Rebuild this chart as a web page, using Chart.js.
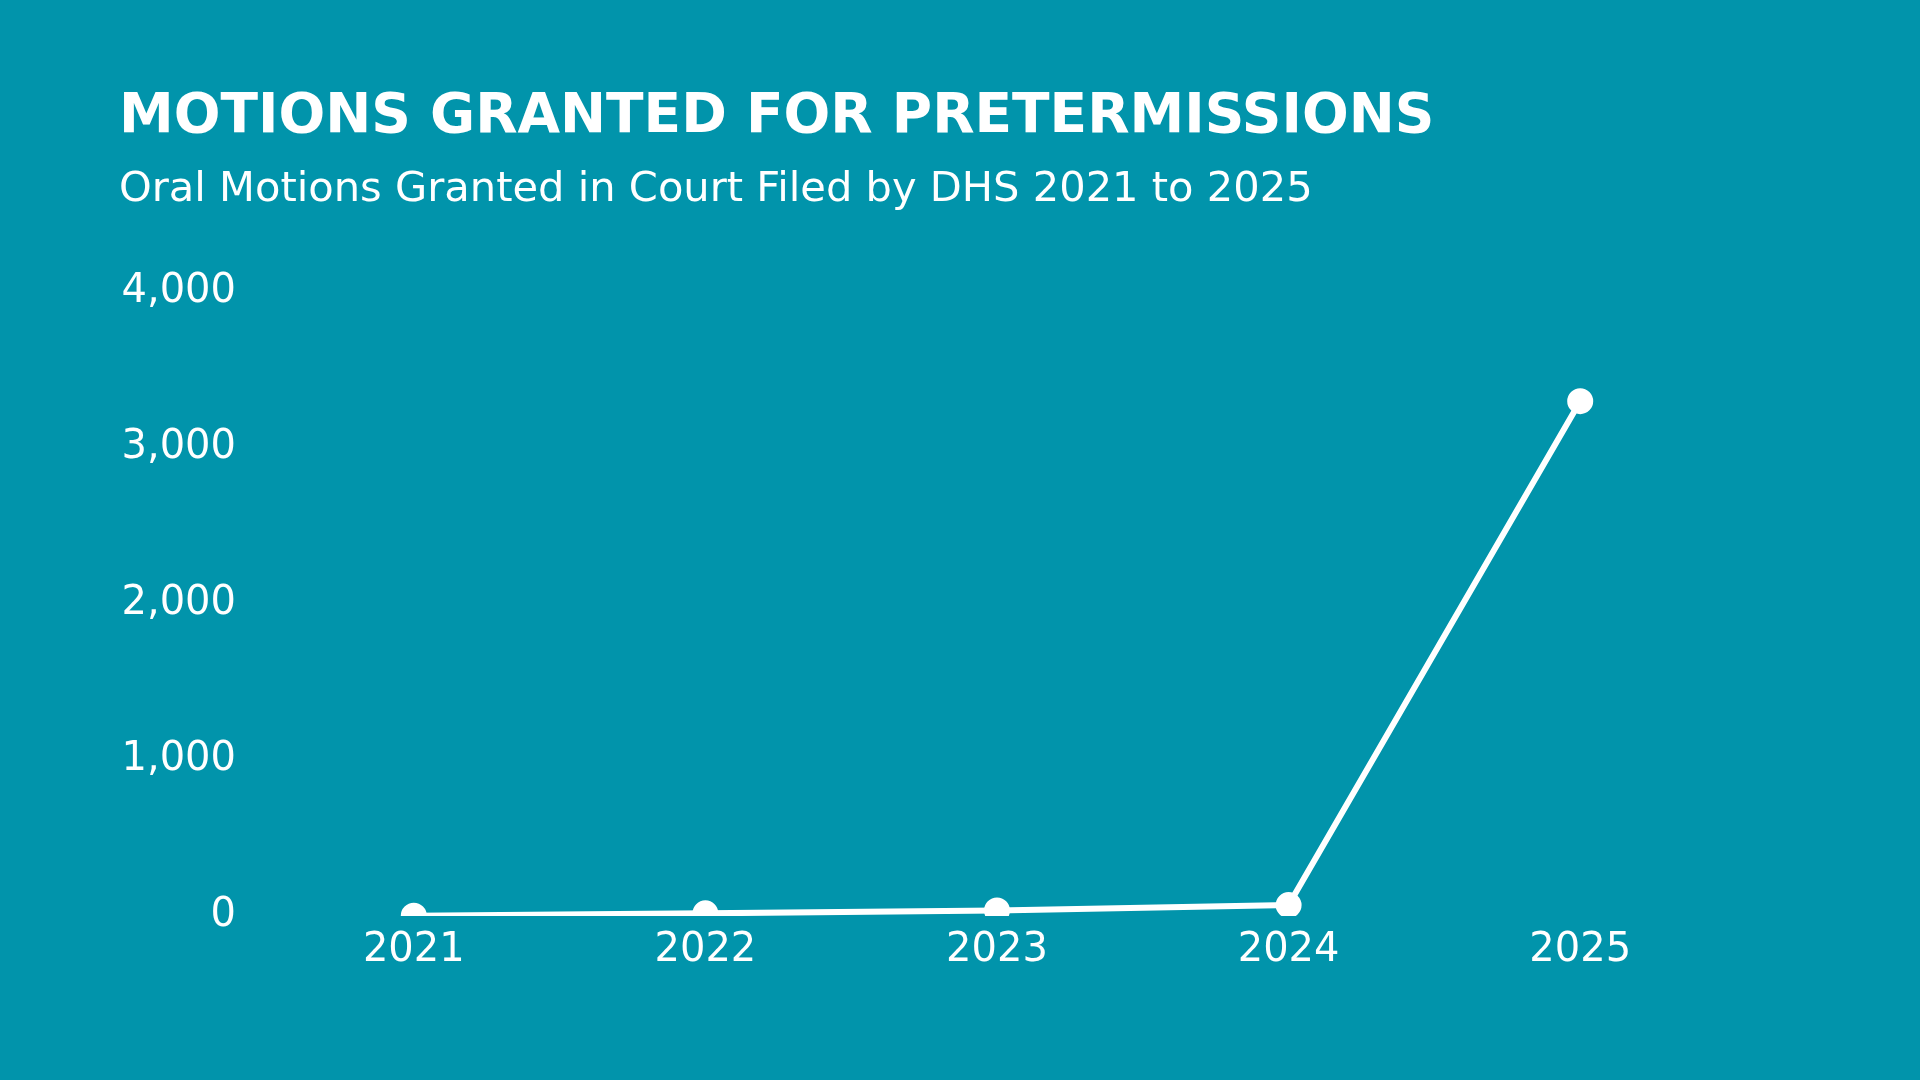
<!DOCTYPE html>
<html lang="en">
<head>
  <meta charset="UTF-8" />
  <title>Motions Granted for Pretermissions</title>
  <script src="https://cdn.jsdelivr.net/npm/chart.js"></script>
  <style>
    body {
      margin: 0;
      padding: 0;
      background-color: #0194ab;
      overflow: hidden;
    }

    .wrap {
      width: 1920px;
      height: 1080px;
    }
  </style>
</head>
<body>
  <div class="wrap">
    <canvas id="motionsChart" width="1920" height="1080"></canvas>
  </div>

  <script>
    const years = ['2021', '2022', '2023', '2024', '2025'];
    const motionsGranted = [2, 17, 35, 70, 3300];
    const yTicks = [0, 1000, 2000, 3000, 4000];

    const fontFamily = '"DejaVu Sans", sans-serif';

    new Chart(document.getElementById('motionsChart').getContext('2d'), {
      type: 'line',
      data: {
        labels: years,
        datasets: [{
          label: 'Oral motions granted',
          data: motionsGranted,
          borderColor: '#ffffff',
          backgroundColor: '#ffffff',
          borderWidth: 6,
          pointRadius: 10,
          pointHoverRadius: 10,
          tension: 0
        }]
      },
      options: {
        responsive: false,
        animation: false,
        layout: { padding: { left: 119, right: 194, top: 0, bottom: 94 } },
        plugins: {
          legend: { display: false },
          tooltip: { enabled: false },
          title: {
            display: true,
            text: 'MOTIONS GRANTED FOR PRETERMISSIONS',
            align: 'start',
            color: '#ffffff',
            font: { family: fontFamily, size: 55, weight: 'bold', lineHeight: 1.2 },
            padding: { top: 85, bottom: 0 }
          },
          subtitle: {
            display: true,
            text: 'Oral Motions Granted in Court Filed by DHS 2021 to 2025',
            align: 'start',
            color: '#ffffff',
            font: { family: fontFamily, size: 41.6, weight: 'normal', lineHeight: 1.2 },
            padding: { top: 14, bottom: 77 }
          }
        },
        scales: {
          x: {
            offset: true,
            grid: { display: false, drawTicks: false },
            border: { display: false },
            ticks: {
              color: '#ffffff',
              padding: 11,
              font: { family: fontFamily, size: 40, weight: 'normal' }
            }
          },
          y: {
            min: 0,
            max: 4000,
            afterBuildTicks: (axis) => { axis.ticks = yTicks.map(v => ({ value: v })); },
            afterFit: (axis) => { axis.width = 149; },
            grid: { display: false, drawTicks: false },
            border: { display: false },
            ticks: {
              color: '#ffffff',
              padding: 32,
              font: { family: fontFamily, size: 40, weight: 'normal' },
              callback: (v) => v.toLocaleString('en-US')
            }
          }
        }
      }
    });
  </script>
</body>
</html>
